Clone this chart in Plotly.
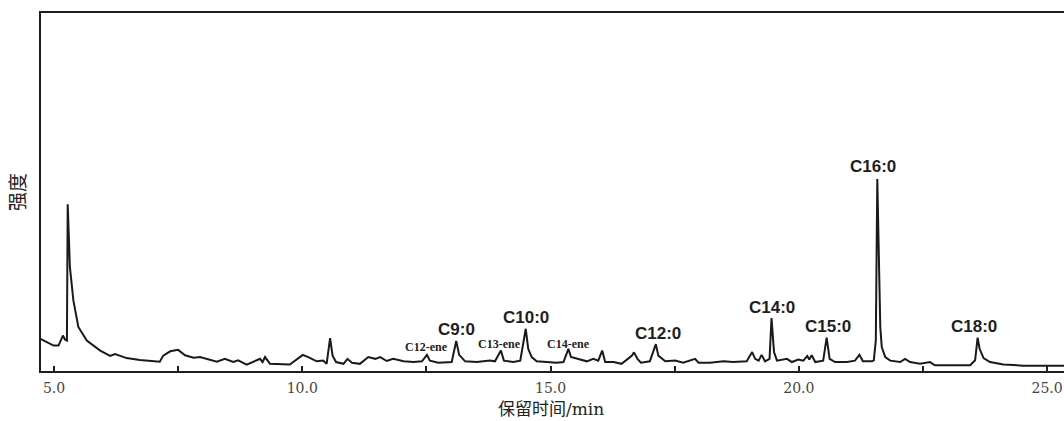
import plotly.graph_objects as go

# Retention time (min) and intensity (relative, 0-100 scale)
time_min = [4.72, 4.99, 5.09, 5.18, 5.22, 5.26, 5.276, 5.32, 5.39, 5.49, 5.66, 5.93, 6.13, 6.23,
            6.46, 6.73, 7.13, 7.20, 7.34, 7.50, 7.64, 7.81, 7.94, 8.28, 8.44, 8.61, 8.71, 8.88,
            9.15, 9.20, 9.25, 9.35, 9.75, 9.92, 10.01, 10.12, 10.29, 10.42, 10.49, 10.56, 10.61,
            10.68, 10.83, 10.91, 11.00, 11.16, 11.33, 11.47, 11.57, 11.70, 11.83, 12.04, 12.24,
            12.41, 12.51, 12.57, 12.74, 13.01, 13.10, 13.16, 13.28, 13.51, 13.78, 13.88, 14.00,
            14.06, 14.25, 14.39, 14.50, 14.55, 14.62, 14.72, 14.92, 15.12, 15.26, 15.36, 15.41,
            15.53, 15.73, 15.86, 15.96, 16.04, 16.10, 16.27, 16.43, 16.64, 16.68, 16.75, 16.82,
            17.00, 17.12, 17.17, 17.24, 17.31, 17.51, 17.67, 17.91, 17.98, 18.21, 18.48, 18.68,
            18.95, 19.06, 19.12, 19.19, 19.25, 19.32, 19.41, 19.45, 19.50, 19.56, 19.76, 19.86,
            19.99, 20.09, 20.17, 20.21, 20.26, 20.33, 20.49, 20.56, 20.62, 20.73, 20.97, 21.13,
            21.22, 21.29, 21.47, 21.51, 21.55, 21.58, 21.60, 21.64, 21.67, 21.74, 21.84, 22.04,
            22.14, 22.24, 22.44, 22.64, 22.74, 23.05, 23.45, 23.55, 23.60, 23.64, 23.72, 23.85,
            24.12, 24.52, 25.40]
intensity = [9.0, 7.1, 7.1, 9.9, 8.8, 8.5, 46.6, 29.0, 19.7, 12.3, 8.5, 5.7, 4.2, 4.7,
             3.6, 3.1, 2.6, 4.3, 5.5, 5.9, 4.4, 3.7, 3.9, 2.6, 3.4, 2.5, 3.0, 1.8,
             3.4, 2.5, 3.9, 2.0, 1.8, 3.4, 4.5, 3.9, 2.7, 2.9, 2.0, 9.2, 4.3,
             2.5, 2.0, 3.4, 2.3, 2.0, 3.9, 3.4, 3.9, 2.8, 3.4, 2.7, 2.5,
             2.7, 4.5, 2.9, 2.3, 2.5, 8.4, 4.5, 2.7, 2.5, 2.9, 2.7, 5.7,
             2.9, 2.5, 2.9, 11.8, 6.2, 3.9, 2.7, 2.5, 2.3, 2.5, 6.2, 3.9,
             3.4, 2.7, 3.4, 2.9, 5.7, 2.5, 2.5, 2.0, 4.3, 5.2, 3.4, 2.3,
             2.7, 7.5, 4.3, 3.6, 2.7, 2.9, 2.3, 3.4, 2.3, 2.3, 2.7, 2.5,
             2.7, 5.3, 3.4, 2.9, 4.5, 2.7, 3.4, 14.8, 5.3, 2.9, 3.4, 2.5,
             3.2, 2.9, 4.2, 3.2, 4.4, 2.5, 2.9, 9.3, 3.4, 2.5, 2.5, 2.9,
             4.5, 2.7, 2.7, 3.0, 8.5, 53.6, 36.5, 12.3, 6.7, 3.9, 2.9, 2.5,
             3.4, 2.5, 2.0, 2.5, 1.6, 1.6, 1.6, 3.0, 9.3, 6.2, 3.6, 2.5,
             1.8, 1.5, 1.5]

# Peak labels
peak_labels = ["C12-ene", "C9:0", "C13-ene", "C10:0", "C14-ene", "C12:0",
               "C14:0", "C15:0", "C16:0", "C18:0"]
peak_label_t = [12.50, 13.11, 13.97, 14.50, 15.36, 17.16, 19.45, 20.58, 21.50, 23.52]
peak_label_i = [6.7, 11.5, 7.6, 15.0, 7.6, 10.6, 17.8, 12.4, 57.0, 12.5]

tick_vals = [5.0, 7.5, 10.0, 12.5, 15.0, 17.5, 20.0, 22.5, 25.0]
tick_text = ["5.0", "", "10.0", "", "15.0", "", "20.0", "", "25.0"]

x_title = "保留时间<span style=\"font-family:'DejaVu Serif'\">/min</span>"
y_title = "强度"

fig = go.Figure()
fig.add_trace(go.Scatter(x=time_min, y=intensity, mode="lines",
                         line=dict(color="#1a1a1a", width=2), showlegend=False,
                         hoverinfo="x+y"))

for lab, t, v in zip(peak_labels, peak_label_t, peak_label_i):
    if "ene" in lab:
        font = dict(family="Liberation Serif, Times New Roman, serif", size=12, color="#222222")
    else:
        font = dict(family="Liberation Sans, Arial, sans-serif", size=17, color="#1e1e1e")
    fig.add_annotation(x=t, y=v, text="<b>" + lab + "</b>", showarrow=False, font=font,
                       xanchor="center", yanchor="middle")

# axis title placed below the tick labels
fig.add_annotation(x=15.0, xref="x", y=-0.103, yref="paper", text=x_title,
                   showarrow=False, xanchor="center", yanchor="middle", borderpad=0,
                   font=dict(family="Noto Sans CJK SC, DejaVu Serif, serif",
                             size=17, color="#222222"))

fig.update_layout(
    width=1064, height=421,
    margin=dict(l=41, r=0, t=13, b=50),
    paper_bgcolor="white", plot_bgcolor="white",
    xaxis=dict(range=[4.738, 25.34], tickvals=tick_vals, ticktext=tick_text,
               ticks="inside", ticklen=5, tickwidth=1.5, tickcolor="#1e1e1e",
               ticklabelstandoff=3,
               showline=True, linecolor="#1e1e1e", linewidth=2, mirror=True,
               showgrid=False, zeroline=False,
               tickfont=dict(family="DejaVu Serif, serif", size=14, color="#444444")),
    yaxis=dict(range=[0, 100], showticklabels=False, ticks="",
               showline=True, linecolor="#1e1e1e", linewidth=2, mirror=False,
               showgrid=False, zeroline=False,
               title=dict(text=y_title, standoff=8,
                          font=dict(family="Noto Sans CJK SC, serif", size=19,
                                    color="#222222"))),
)

fig.write_html("out.html")
